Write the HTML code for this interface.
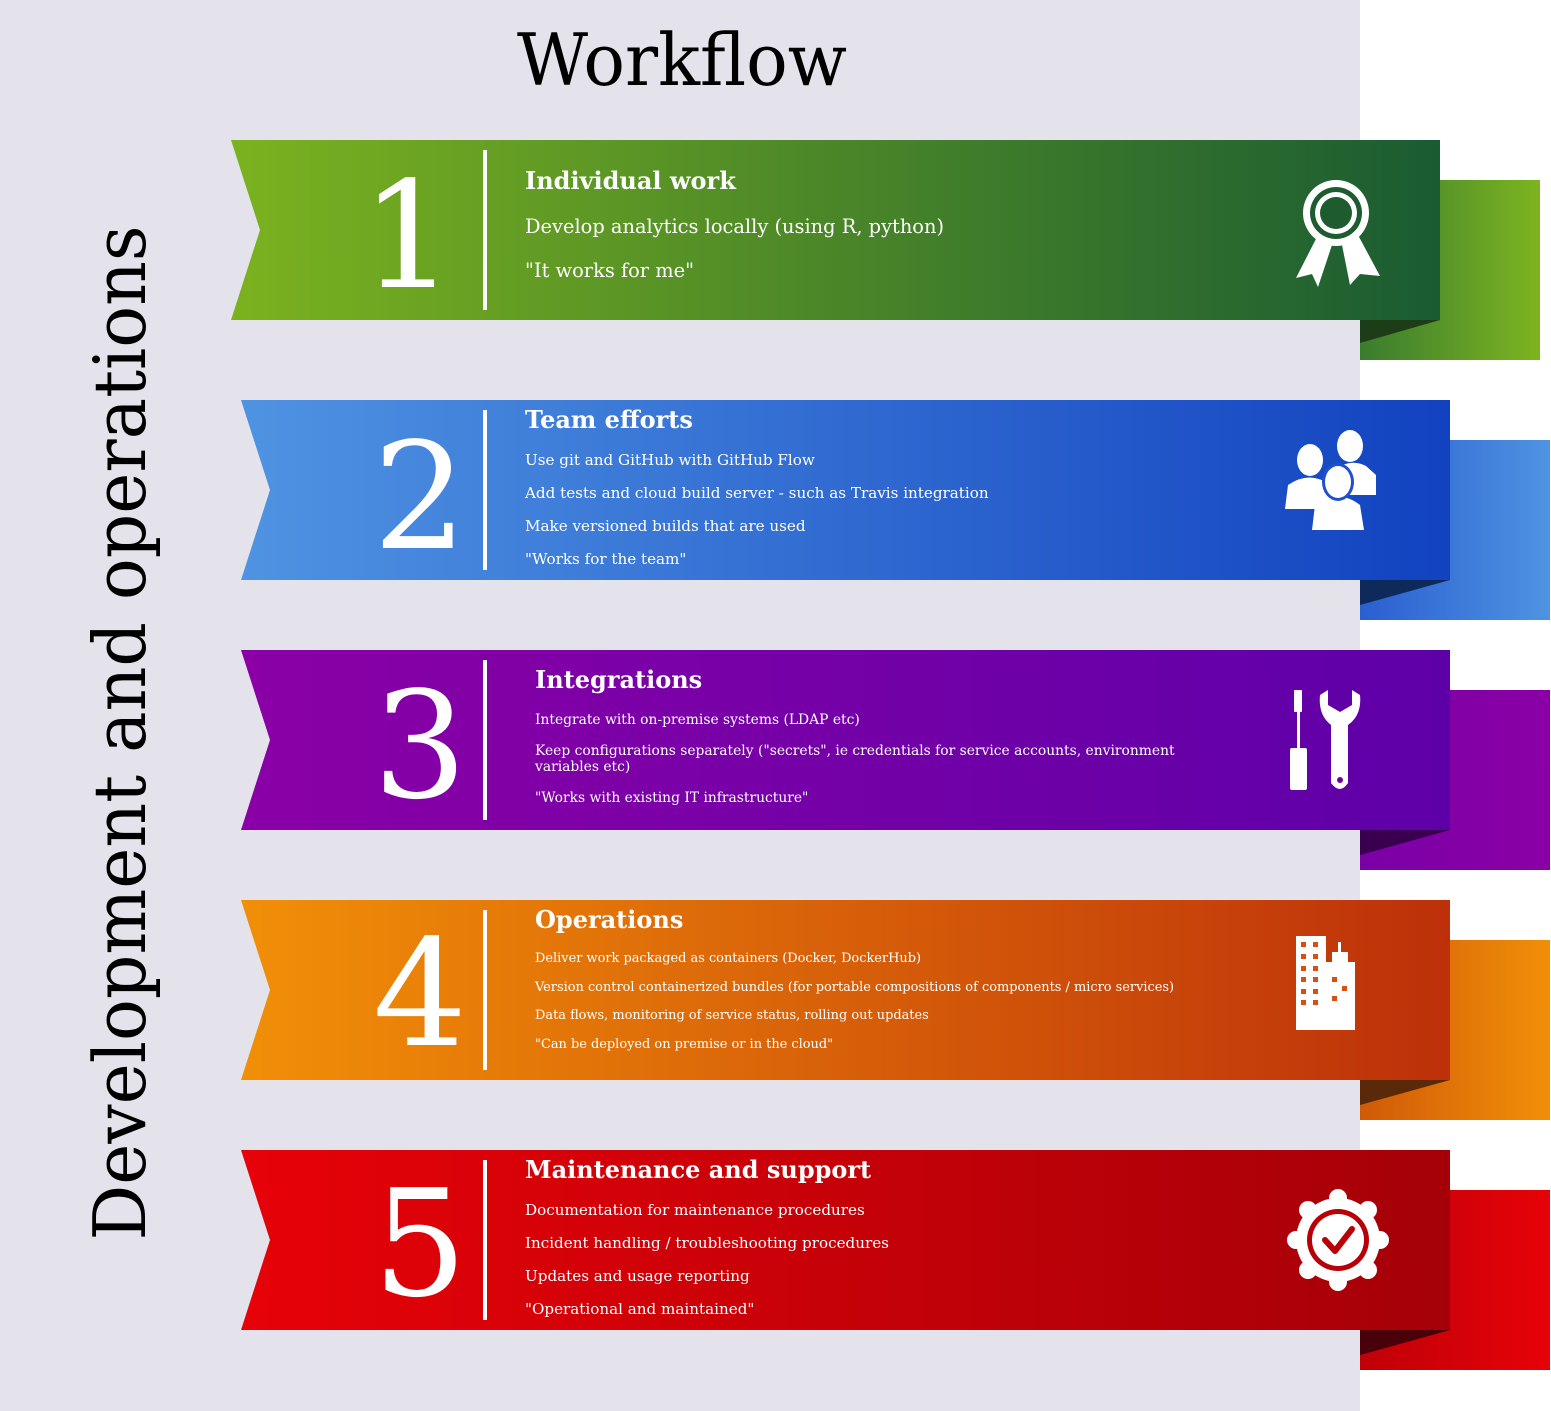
<!DOCTYPE html>
<html><head><meta charset="utf-8"><style>
html,body{margin:0;padding:0;background:#fff;}
svg{display:block;}
text{font-family:"DejaVu Serif","Liberation Serif",serif;}
</style></head><body>
<svg width="1551" height="1411" viewBox="0 0 1551 1411" xmlns="http://www.w3.org/2000/svg">
<defs>
<linearGradient id="g1" x1="0" x2="1"><stop offset="0" stop-color="#7bb21f"/><stop offset="1" stop-color="#1a5b32"/></linearGradient>
<linearGradient id="t1" x1="0" x2="1"><stop offset="0" stop-color="#3a7c2f"/><stop offset="1" stop-color="#7db420"/></linearGradient>
<linearGradient id="g2" x1="0" x2="1"><stop offset="0" stop-color="#4f93e2"/><stop offset="1" stop-color="#1242c0"/></linearGradient>
<linearGradient id="t2" x1="0" x2="1"><stop offset="0" stop-color="#2a5fd0"/><stop offset="1" stop-color="#4f93e2"/></linearGradient>
<linearGradient id="g3" x1="0" x2="1"><stop offset="0" stop-color="#8a00a6"/><stop offset="1" stop-color="#5e00a8"/></linearGradient>
<linearGradient id="t3" x1="0" x2="1"><stop offset="0" stop-color="#7a00a6"/><stop offset="1" stop-color="#8a00a6"/></linearGradient>
<linearGradient id="g4" x1="0" x2="1"><stop offset="0" stop-color="#f18f08"/><stop offset="1" stop-color="#bd300a"/></linearGradient>
<linearGradient id="t4" x1="0" x2="1"><stop offset="0" stop-color="#d05a08"/><stop offset="1" stop-color="#f18f08"/></linearGradient>
<linearGradient id="g5" x1="0" x2="1"><stop offset="0" stop-color="#e60208"/><stop offset="1" stop-color="#a50008"/></linearGradient>
<linearGradient id="t5" x1="0" x2="1"><stop offset="0" stop-color="#c00008"/><stop offset="1" stop-color="#e60208"/></linearGradient>
</defs>
<rect x="0" y="0" width="1360" height="1411" fill="#e4e3ec"/>
<text x="682" y="85" font-size="72" text-anchor="middle" textLength="330" lengthAdjust="spacingAndGlyphs" fill="#000">Workflow</text>
<text transform="translate(145,733) rotate(-90)" font-size="72" text-anchor="middle" textLength="1015" lengthAdjust="spacingAndGlyphs" fill="#000">Development and operations</text>

<!-- banner 1 -->
<rect x="1360" y="180" width="180" height="180" fill="url(#t1)"/>
<polygon points="1360,320 1440,320 1360,343" fill="#1d3d18"/>
<polygon points="231,140 1440,140 1440,320 231,320 260,230" fill="url(#g1)"/>
<rect x="483" y="150" width="4" height="160" fill="#fff"/>
<text x="408" y="287" font-size="148" text-anchor="middle" fill="#fff">1</text>
<text x="525" y="189" font-size="24" font-weight="bold" fill="#fff">Individual work</text>
<text x="525" y="233" font-size="19.4" fill="#fff">Develop analytics locally (using R, python)</text>
<text x="525" y="277" font-size="19.4" fill="#fff">"It works for me"</text>
<g fill="#fff">
<polygon points="1318,235 1296,278 1312,274 1318,287 1332,245"/>
<polygon points="1342,245 1350,285 1360,274 1380,276 1358,235"/>
<circle cx="1336" cy="213" r="33"/>
</g>
<circle cx="1336" cy="213" r="26" fill="#1e5c30"/>
<circle cx="1336" cy="213" r="21" fill="#fff"/>
<circle cx="1336" cy="213" r="16" fill="#1e5c30"/>

<!-- banner 2 -->
<rect x="1360" y="440" width="190" height="180" fill="url(#t2)"/>
<polygon points="1360,580 1450,580 1360,605" fill="#0e2a5a"/>
<polygon points="241,400 1450,400 1450,580 241,580 270,490" fill="url(#g2)"/>
<rect x="483" y="410" width="4" height="160" fill="#fff"/>
<text x="420" y="548" font-size="148" text-anchor="middle" fill="#fff">2</text>
<text x="525" y="428" font-size="24" font-weight="bold" fill="#fff">Team efforts</text>
<text x="525" y="465" font-size="15.15" fill="#fff">Use git and GitHub with GitHub Flow</text>
<text x="525" y="498" font-size="15.15" fill="#fff">Add tests and cloud build server - such as Travis integration</text>
<text x="525" y="531" font-size="15.15" fill="#fff">Make versioned builds that are used</text>
<text x="525" y="564" font-size="15.15" fill="#fff">"Works for the team"</text>
<g fill="#fff">
<ellipse cx="1350" cy="446" rx="13" ry="16"/>
<path d="M1330,495 L1334,470 Q1350,458 1366,466 L1376,475 L1376,495 Z"/>
<ellipse cx="1310" cy="460" rx="13" ry="16"/>
<path d="M1285,509 L1288,485 Q1310,470 1330,485 L1330,509 Z"/>
<path d="M1312,530 L1315,505 Q1338,488 1360,505 L1364,530 Z"/>
</g>
<ellipse cx="1338" cy="482" rx="16" ry="19" fill="#2050d0"/>
<ellipse cx="1338" cy="482" rx="13" ry="16" fill="#fff"/>

<!-- banner 3 -->
<rect x="1360" y="690" width="190" height="180" fill="url(#t3)"/>
<polygon points="1360,830 1450,830 1360,855" fill="#3a0050"/>
<polygon points="241,650 1450,650 1450,830 241,830 270,740" fill="url(#g3)"/>
<rect x="483" y="660" width="4" height="160" fill="#fff"/>
<text x="420" y="797" font-size="148" text-anchor="middle" fill="#fff">3</text>
<text x="535" y="688" font-size="24" font-weight="bold" fill="#fff">Integrations</text>
<text x="535" y="724" font-size="13.85" fill="#fff">Integrate with on-premise systems (LDAP etc)</text>
<text x="535" y="755" font-size="13.85" fill="#fff">Keep configurations separately ("secrets", ie credentials for service accounts, environment</text>
<text x="535" y="771" font-size="13.85" fill="#fff">variables etc)</text>
<text x="535" y="802" font-size="13.85" fill="#fff">"Works with existing IT infrastructure"</text>
<g fill="#fff">
<rect x="1294" y="690" width="8" height="22" rx="1"/>
<rect x="1297" y="710" width="3" height="40"/>
<rect x="1290" y="748" width="17" height="42" rx="2"/>
<path d="M1320,695 L1328,690 L1328,705 L1340,712 L1352,705 L1352,690 L1360,695 Q1362,715 1348,725 L1348,783 Q1340,795 1331,783 L1331,725 Q1318,715 1320,695 Z"/>
</g>
<circle cx="1340" cy="780" r="3" fill="#6a00a8"/>

<!-- banner 4 -->
<rect x="1360" y="940" width="190" height="180" fill="url(#t4)"/>
<polygon points="1360,1080 1450,1080 1360,1105" fill="#5a2a08"/>
<polygon points="241,900 1450,900 1450,1080 241,1080 270,990" fill="url(#g4)"/>
<rect x="483" y="910" width="4" height="160" fill="#fff"/>
<text x="420" y="1045" font-size="148" text-anchor="middle" fill="#fff">4</text>
<text x="535" y="928" font-size="24" font-weight="bold" fill="#fff">Operations</text>
<text x="535" y="962" font-size="12.93" fill="#fff">Deliver work packaged as containers (Docker, DockerHub)</text>
<text x="535" y="991" font-size="12.93" fill="#fff">Version control containerized bundles (for portable compositions of components / micro services)</text>
<text x="535" y="1019" font-size="12.93" fill="#fff">Data flows, monitoring of service status, rolling out updates</text>
<text x="535" y="1048" font-size="12.93" fill="#fff">"Can be deployed on premise or in the cloud"</text>
<g fill="#fff">
<rect x="1296" y="936" width="30" height="94"/>
<rect x="1326" y="962" width="29" height="68"/>
<rect x="1332" y="952" width="16" height="12"/>
<rect x="1338" y="942" width="3" height="12"/>
</g>
<g fill="#d85010">
<rect x="1301" y="942" width="5" height="5"/><rect x="1313" y="942" width="5" height="5"/>
<rect x="1301" y="954" width="5" height="5"/><rect x="1313" y="954" width="5" height="5"/>
<rect x="1301" y="966" width="5" height="5"/><rect x="1313" y="966" width="5" height="5"/>
<rect x="1301" y="977" width="5" height="5"/><rect x="1313" y="977" width="5" height="5"/>
<rect x="1301" y="989" width="5" height="5"/><rect x="1313" y="989" width="5" height="5"/>
<rect x="1301" y="1000" width="5" height="5"/><rect x="1313" y="1000" width="5" height="5"/>
<rect x="1332" y="977" width="5" height="5"/><rect x="1342" y="986" width="5" height="5"/><rect x="1332" y="996" width="5" height="5"/>
</g>

<!-- banner 5 -->
<rect x="1360" y="1190" width="190" height="180" fill="url(#t5)"/>
<polygon points="1360,1330 1450,1330 1360,1355" fill="#4a0008"/>
<polygon points="241,1150 1450,1150 1450,1330 241,1330 270,1240" fill="url(#g5)"/>
<rect x="483" y="1160" width="4" height="160" fill="#fff"/>
<text x="420" y="1295" font-size="148" text-anchor="middle" fill="#fff">5</text>
<text x="525" y="1178" font-size="24" font-weight="bold" fill="#fff">Maintenance and support</text>
<text x="525" y="1215" font-size="15.15" fill="#fff">Documentation for maintenance procedures</text>
<text x="525" y="1248" font-size="15.15" fill="#fff">Incident handling / troubleshooting procedures</text>
<text x="525" y="1281" font-size="15.15" fill="#fff">Updates and usage reporting</text>
<text x="525" y="1314" font-size="15.15" fill="#fff">"Operational and maintained"</text>
<g fill="#fff">
<circle cx="1338" cy="1240" r="42"/>
<circle cx="1338" cy="1198" r="9"/><circle cx="1338" cy="1282" r="9"/>
<circle cx="1296" cy="1240" r="9"/><circle cx="1380" cy="1240" r="9"/>
<circle cx="1368" cy="1210" r="9"/><circle cx="1308" cy="1210" r="9"/>
<circle cx="1368" cy="1270" r="9"/><circle cx="1308" cy="1270" r="9"/>
</g>
<circle cx="1338" cy="1240" r="31" fill="#b80008"/>
<circle cx="1338" cy="1240" r="26" fill="#fff"/>
<polyline points="1325,1240 1335,1251 1352,1229" fill="none" stroke="#b80008" stroke-width="6" stroke-linecap="round" stroke-linejoin="round"/>
</svg>
</body></html>
